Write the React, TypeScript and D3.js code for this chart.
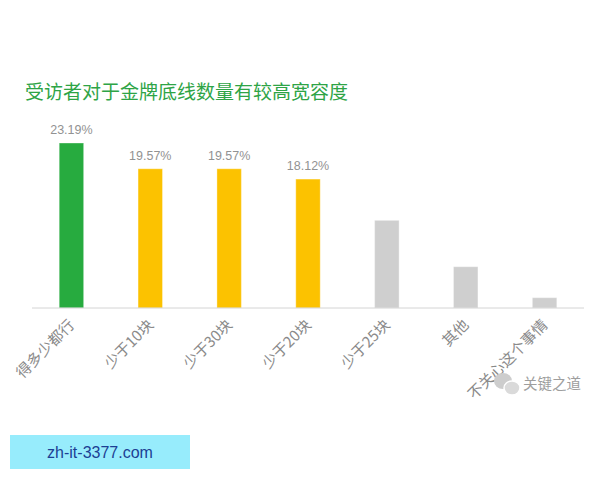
import * as d3 from "d3";

const categories = ["得多少都行", "少于10块", "少于30块", "少于20块", "少于25块", "其他", "不关心这个事情"];
const shares = [23.19, 19.57, 19.57, 18.12, 12.32, 5.8, 1.45];
const barColors = ["#27ab3f", "#fcc200", "#fcc200", "#fcc200", "#cfcfcf", "#cfcfcf", "#cfcfcf"];
const labelShown = [true, true, true, true, false, false, false];

const WIDTH = 600;
const HEIGHT = 480;
const AXIS_Y = 308;
const FONT = "'Liberation Sans', Arial, 'Noto Sans CJK SC', sans-serif";
const CJK = "'Noto Sans CJK SC', 'Liberation Sans', sans-serif";

export default function App() {
  const x = d3
    .scaleBand<string>()
    .domain(categories)
    .range([32, 584])
    .paddingInner(0.69)
    .paddingOuter(0.345);

  const y = d3.scaleLinear().domain([0, 23.19]).range([AXIS_Y, 143]);

  return (
    <svg
      width={WIDTH}
      height={HEIGHT}
      style={{ position: "absolute", left: 0, top: 0, background: "#fff" }}
    >
      <text x={25} y={99} fontSize={19} fill="#2ea446" fontFamily={CJK}>
        受访者对于金牌底线数量有较高宽容度
      </text>

      {categories.map((c, i) => {
        const bx = x(c) ?? 0;
        const top = y(shares[i]);
        return (
          <g key={c}>
            <rect
              x={bx}
              y={top}
              width={x.bandwidth()}
              height={AXIS_Y - top}
              fill={barColors[i]}
              stroke="#ffffff"
              strokeOpacity={0.35}
              strokeWidth={1}
            />
            {labelShown[i] && (
              <text
                x={bx + x.bandwidth() / 2}
                y={top - 9}
                textAnchor="middle"
                fontSize={12.5}
                fill="#929292"
                fontFamily={FONT}
              >
                {shares[i].toFixed(2)}%
              </text>
            )}
            <text
              transform={`translate(${bx + x.bandwidth() / 2 + 4},${AXIS_Y + 18}) rotate(-45)`}
              textAnchor="end"
              fontSize={15}
              fill="#8a8a8a"
              fontFamily={CJK}
            >
              {c}
            </text>
          </g>
        );
      })}

      <line x1={32} x2={584} y1={AXIS_Y} y2={AXIS_Y} stroke="#d4d4d4" strokeWidth={1} />

      {/* watermark */}
      <g>
        <ellipse cx={503} cy={381} rx={9} ry={8} fill="#cdcdcd" />
        <ellipse cx={512} cy={388} rx={8} ry={7} fill="#dadada" stroke="#fff" strokeWidth={1.5} />
        <text x={523} y={389} fontSize={14.5} fill="#9e9e9e" fontFamily={CJK}>
          关键之道
        </text>
      </g>

      <rect x={10} y={435} width={180} height={34} fill="#97ecfc" />
      <text
        x={100}
        y={458}
        textAnchor="middle"
        fontSize={16}
        fill="#1c3f94"
        fontFamily={FONT}
      >
        zh-it-3377.com
      </text>
    </svg>
  );
}
